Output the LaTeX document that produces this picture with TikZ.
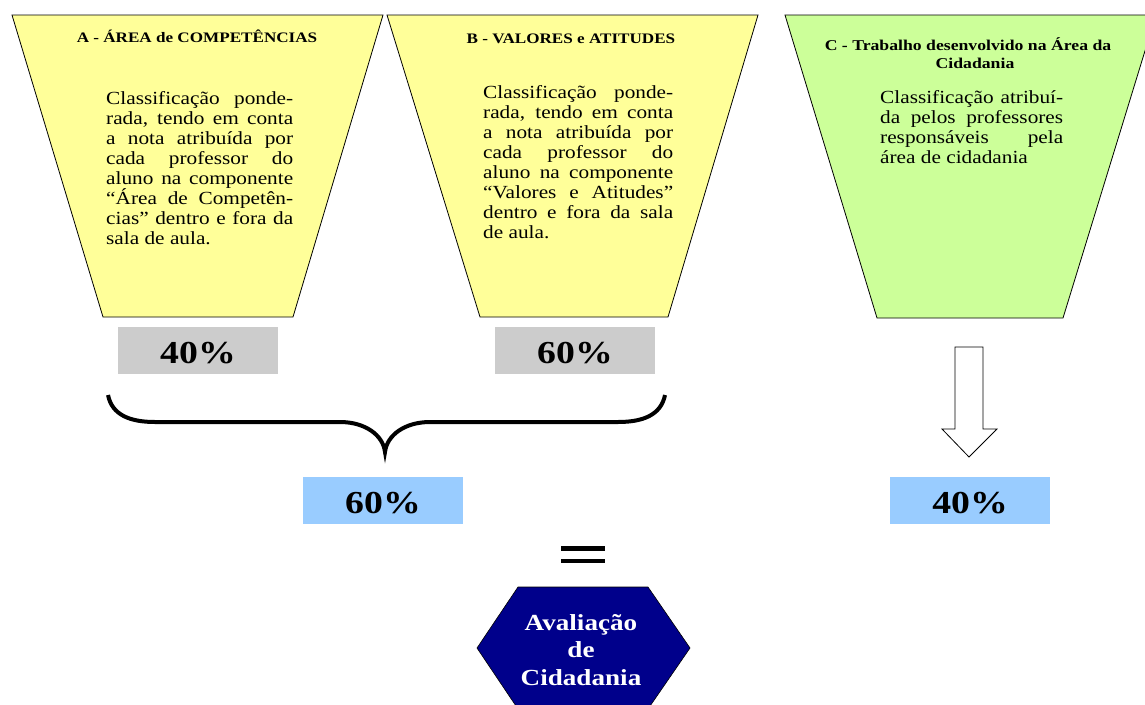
\documentclass[tikz,border=0pt]{standalone}
\usepackage{fontspec}
\setmainfont{Liberation Serif}[FakeStretch=1.18]
\newfontfamily\bodyfont{Liberation Serif}[FakeStretch=1.15]
\definecolor{trapY}{HTML}{FFFF99}
\definecolor{trapG}{HTML}{CCFF99}
\definecolor{boxgray}{HTML}{CCCCCC}
\definecolor{boxblue}{HTML}{99CCFF}
\definecolor{hexblue}{HTML}{00008B}
\newcommand{\bodypar}[2]{\parbox[t]{#1}{\tolerance=10000\hbadness=10000\hyphenpenalty=10000 #2}}
\begin{document}
\begin{tikzpicture}[x=1pt,y=-1pt,
  trap/.style={draw=black, line width=0.8pt},
  ttl/.style={anchor=base, inner sep=0pt, font=\fontsize{14.5}{18}\selectfont\bfseries},
  bodytext/.style={anchor=base west, inner sep=0pt, font=\bodyfont\fontsize{18.5}{20}\selectfont},
  pct/.style={minimum width=160pt, minimum height=47pt, inner sep=0pt, text height=26pt, text depth=0pt, font=\fontsize{32}{36}\selectfont\bfseries}]
\useasboundingbox (0,0) rectangle (1145,704);
\fill[white] (0,0) rectangle (1145,704);
% funnels
\draw[trap, fill=trapY] (12,15) -- (383,15) -- (293,317) -- (103,317) -- cycle;
\draw[trap, fill=trapY] (387,15) -- (758,15) -- (668,317) -- (480,317) -- cycle;
\draw[trap, fill=trapG] (785,15) -- (1156,15) -- (1063,318) -- (877,318) -- cycle;
% titles
\node[ttl] (tA) at (197,42) {A - ÁREA de COMPETÊNCIAS};
\node[ttl] (tB) at (571,43) {B - VALORES e ATITUDES};
\node[ttl, font=\fontsize{15}{18}\selectfont\bfseries] (tC) at (968,50) {\parbox[t]{340pt}{\centering C - Trabalho desenvolvido na Área da\\\hspace*{14pt}Cidadania}};
% bodies
\node[bodytext] (bA) at (106,104) {\bodypar{187pt}{Classificação ponde-\linebreak rada, tendo em conta\linebreak a nota atribuída por\linebreak cada professor do\linebreak aluno na componente\linebreak “Área de Competên-\linebreak cias” dentro e fora da\linebreak sala de aula.}};
\node[bodytext] (bB) at (483,98) {\bodypar{190pt}{Classificação ponde-\linebreak rada, tendo em conta\linebreak a nota atribuída por\linebreak cada professor do\linebreak aluno na componente\linebreak “Valores e Atitudes”\linebreak dentro e fora da sala\linebreak de aula.}};
\node[bodytext] (bC) at (880,103) {\bodypar{183pt}{Classificação atribuí-\linebreak da pelos professores\linebreak responsáveis pela\linebreak área de cidadania}};
% percentages
\node[pct, fill=boxgray] (g40) at (198,350) {40\%};
\node[pct, fill=boxgray] (g60) at (575,350) {60\%};
\node[pct, fill=boxblue] (b60) at (383,500.5) {60\%};
\node[pct, fill=boxblue] (b40) at (970,500.5) {40\%};
% brace
\draw[line width=4pt] (108,395) .. controls (112,415) and (130,422) .. (155,422) -- (340,422)
  .. controls (365,422) and (383,435) .. (385,452)
  .. controls (387,435) and (405,422) .. (430,422) -- (618,422)
  .. controls (643,422) and (661,415) .. (665,395);
% block arrow
\draw[line width=0.8pt, fill=white] (955,347) -- (983,347) -- (983,429) -- (997,429) -- (969,457) -- (942,429) -- (955,429) -- cycle;
% equals
\fill (561,546) rectangle (605,550.5);
\fill (561,558.5) rectangle (605,563);
% hexagon
\draw[fill=hexblue, line width=0.6pt] (518,587) -- (648,587) -- (690,648) -- (648,709) -- (518,709) -- (477,648) -- cycle;
\node[anchor=base, inner sep=0pt, text=white, font=\fontsize{23}{27.5}\selectfont\bfseries] (hex) at (581,630) {\parbox[t]{200pt}{\centering Avaliação\\de\\Cidadania}};
\end{tikzpicture}
\end{document}
